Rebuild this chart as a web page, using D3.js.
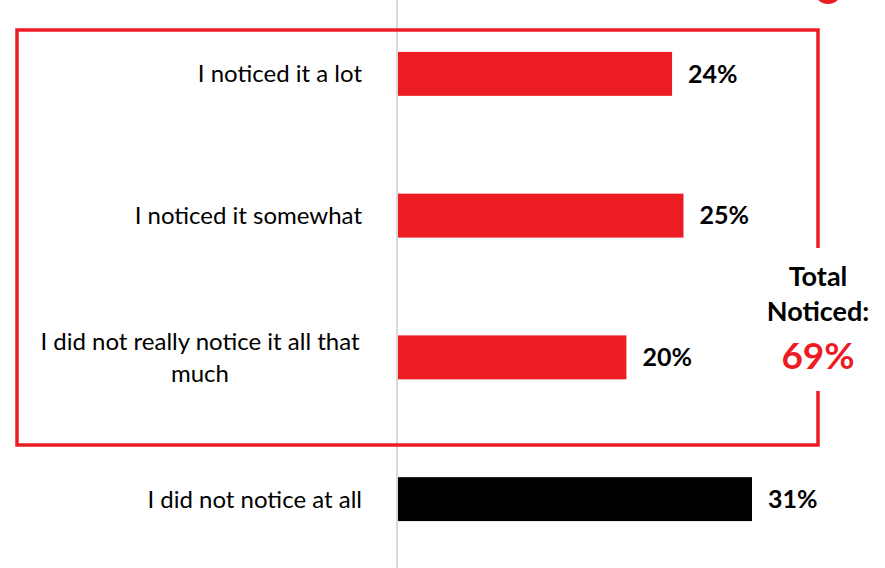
<!DOCTYPE html>
<html>
<head>
<meta charset="utf-8">
<script src="https://cdn.jsdelivr.net/npm/d3@7"></script>
<style>
  html, body { margin: 0; padding: 0; background: #fff; }
  svg { display: block; }
  text { font-family: Lato, "Open Sans", sans-serif; }
</style>
</head>
<body>
<svg id="chart" width="885" height="568"></svg>
<script>
// Survey responses: how much respondents noticed it
const categories = [
  "I noticed it a lot",
  "I noticed it somewhat",
  "I did not really notice it all that much",
  "I did not notice at all"
];
const labelLines = [
  ["I noticed it a lot"],
  ["I noticed it somewhat"],
  ["I did not really notice it all that", "much"],
  ["I did not notice at all"]
];
const values = [24, 25, 20, 31];
const barColors = ["#ED1C24", "#ED1C24", "#ED1C24", "#000000"];
const totalLabel = ["Total", "Noticed:"];
const totalValue = 69;

const RED = "#ED1C24";
const svg = d3.select("#chart");

const x = d3.scaleLinear().domain([0, 31]).range([398, 752]);
const y = d3.scaleBand().domain(categories).range([3, 570])
  .paddingInner(0.69).paddingOuter(0.345);

// vertical baseline
svg.append("line")
  .attr("x1", 397).attr("x2", 397).attr("y1", 0).attr("y2", 568)
  .attr("stroke", "#d9d9d9").attr("stroke-width", 2);

// bars
svg.selectAll("rect.bar").data(categories).join("rect")
  .attr("class", "bar")
  .attr("x", x(0))
  .attr("y", d => y(d))
  .attr("width", (d, i) => x(values[i]) - x(0))
  .attr("height", y.bandwidth())
  .attr("fill", (d, i) => barColors[i]);

// value labels
svg.selectAll("text.val").data(categories).join("text")
  .attr("class", "val")
  .attr("x", (d, i) => x(values[i]) + 16)
  .attr("y", d => y(d) + y.bandwidth() / 2)
  .attr("dy", "0.35em")
  .attr("font-size", 25).attr("font-weight", "bold").attr("fill", "#000")
  .text((d, i) => values[i] + "%");

// category labels
categories.forEach((c, i) => {
  const lines = labelLines[i];
  const cy = y(c) + y.bandwidth() / 2;
  const lh = 32;
  const t = svg.append("text")
    .attr("font-size", 24).attr("fill", "#000")
    .attr("text-anchor", lines.length > 1 ? "middle" : "end");
  lines.forEach((ln, j) => {
    t.append("tspan")
      .attr("x", lines.length > 1 ? 200 : 362)
      .attr("y", cy + (j - (lines.length - 1) / 2) * lh)
      .attr("dy", "0.35em")
      .text(ln);
  });
});

// bracket box around the "noticed" responses, with a gap for the total
const bx0 = 17, bx1 = 818, by0 = 30, by1 = 445;
svg.append("path")
  .attr("d", `M${bx1},248 V${by0} H${bx0} V${by1} H${bx1} V391`)
  .attr("fill", "none").attr("stroke", RED).attr("stroke-width", 3.5);

// total noticed text
svg.append("text").attr("x", bx1).attr("y", 277).attr("dy", "0.35em")
  .attr("text-anchor", "middle").attr("font-size", 27).attr("font-weight", "bold")
  .text(totalLabel[0]);
svg.append("text").attr("x", bx1).attr("y", 312).attr("dy", "0.35em")
  .attr("text-anchor", "middle").attr("font-size", 27).attr("font-weight", "bold")
  .text(totalLabel[1]);
svg.append("text").attr("x", bx1).attr("y", 356).attr("dy", "0.35em")
  .attr("text-anchor", "middle").attr("font-size", 37).attr("font-weight", "bold")
  .attr("fill", RED)
  .text(totalValue + "%");

// partial red marker at the top edge
svg.append("circle").attr("cx", 828).attr("cy", -10).attr("r", 14).attr("fill", RED);
</script>
</body>
</html>
